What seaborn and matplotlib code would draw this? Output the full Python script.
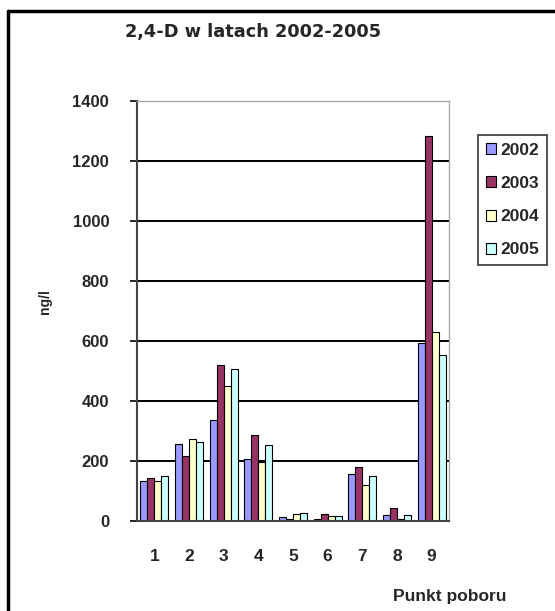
import matplotlib
matplotlib.use("Agg")
import matplotlib.pyplot as plt
from matplotlib.lines import Line2D
import seaborn as sns
import pandas as pd
import numpy as np

points = ["1", "2", "3", "4", "5", "6", "7", "8", "9"]
years = ["2002", "2003", "2004", "2005"]
v2002 = [133, 257, 338, 208, 15, 8, 157, 20, 593]
v2003 = [143, 218, 519, 286, 8, 22, 180, 44, 1283]
v2004 = [133, 274, 449, 198, 22, 17, 121, 8, 631]
v2005 = [150, 262, 506, 252, 28, 17, 151, 20, 553]
yticks = [0, 200, 400, 600, 800, 1000, 1200, 1400]
colors = ["#9999FF", "#993366", "#FFFFCC", "#CCFFFF"]

rows = []
for yr, vals in zip(years, [v2002, v2003, v2004, v2005]):
    for p, v in zip(points, vals):
        rows.append({"Punkt": p, "Rok": yr, "ng/l": v})
df = pd.DataFrame(rows)

sns.set_style("white")
W, H = 555, 611
fig = plt.figure(figsize=(W / 100, H / 100), dpi=100)
ax = fig.add_axes([137 / W, 1 - 521 / H, (449 - 137) / W, (521 - 101) / H])

sns.barplot(data=df, x="Punkt", y="ng/l", hue="Rok", order=points, hue_order=years,
            palette=colors, edgecolor="black", linewidth=0.8, width=0.8,
            saturation=1, ax=ax, legend=True, errorbar=None)

ax.set_xlim(-0.5, 8.5)
ax.set_ylim(0, 1400)
ax.set_yticks(yticks)
ax.set_yticklabels([str(t) for t in yticks], fontsize=12, fontweight="bold",
                   family="Liberation Sans")
for y in yticks[1:]:
    ax.axhline(y, color="black", lw=1.4, zorder=0)

ax.set_xticks(range(len(points)))
ax.set_xticklabels(points, fontsize=12.5, fontweight="bold", family="Liberation Sans")
ax.set_xticks(np.arange(-0.5, 9.0, 1.0), minor=True)
ax.tick_params(axis="x", which="major", length=0, pad=20)
ax.tick_params(axis="x", which="minor", length=5, width=1.2, color="black", direction="out")
ax.tick_params(axis="y", which="major", length=5, width=1.2, color="black",
               direction="out", pad=15, left=True)

for side in ["left", "bottom"]:
    ax.spines[side].set_color("#444444")
    ax.spines[side].set_linewidth(1.5)
for side in ["top", "right"]:
    ax.spines[side].set_visible(True)
    ax.spines[side].set_color("#aaaaaa")
    ax.spines[side].set_linewidth(1.0)

ax.set_xlabel("")
ax.set_ylabel("")

fig.text(45 / W, 1 - 302 / H, "ng/l", rotation=90, ha="center", va="center",
         fontsize=10, fontweight="bold", family="Liberation Sans")
fig.text(450 / W, 1 - 597 / H, "Punkt poboru", ha="center", va="center",
         fontsize=12.5, fontweight="bold", family="Liberation Sans")
fig.text(253 / W, 1 - 32 / H, "2,4-D w latach 2002-2005", ha="center", va="center",
         fontsize=12.8, fontweight="bold", family="DejaVu Sans")

leg = ax.legend(loc="upper left", bbox_to_anchor=(478 / W, 1 - 135 / H),
                bbox_transform=fig.transFigure, frameon=True, fancybox=False,
                prop={"family": "Liberation Sans", "weight": "bold", "size": 12.5},
                handlelength=0.6, handleheight=0.6, handletextpad=0.25,
                labelspacing=1.05, borderpad=0.45, borderaxespad=0)
leg.get_frame().set_edgecolor("black")
leg.get_frame().set_linewidth(1.2)
for h in leg.legend_handles:
    h.set_edgecolor("black")
    h.set_linewidth(0.8)

fig.add_artist(Line2D([8 / W, 8 / W], [0, 1 - 11 / H], transform=fig.transFigure,
                      color="black", lw=2.5))
fig.add_artist(Line2D([8 / W, 1], [1 - 11 / H, 1 - 11 / H], transform=fig.transFigure,
                      color="black", lw=2.5))

fig.savefig("out.png", dpi=100)
